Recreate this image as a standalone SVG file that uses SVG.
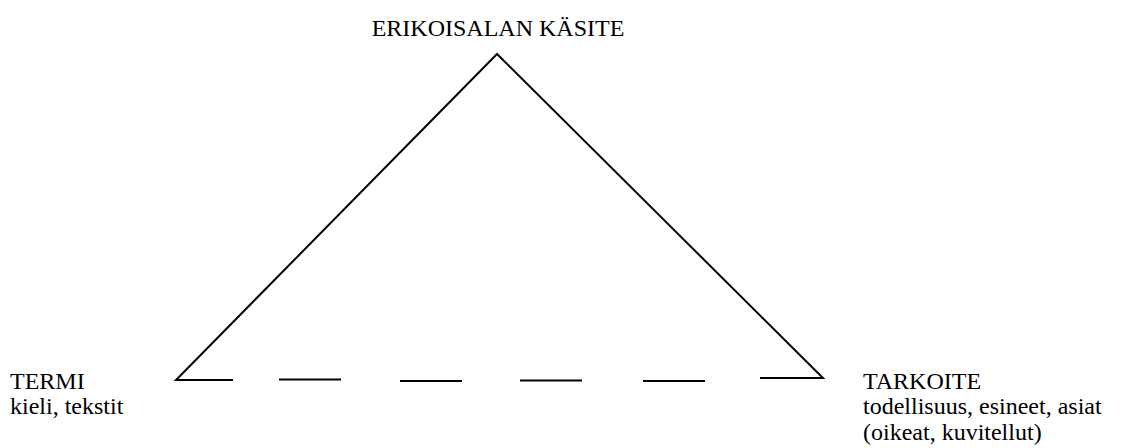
<svg xmlns="http://www.w3.org/2000/svg" width="1138" height="448" viewBox="0 0 1138 448">
<style>
.ln{stroke:#000;stroke-width:2;fill:none}
</style>
<rect width="1138" height="448" fill="#fff"/>
<g id="edges">
<polyline class="ln" points="233,380 176,380 497,54 823,378 760,378"/>
<line class="ln" x1="279" y1="379.5" x2="341" y2="379.5"/>
<line class="ln" x1="400" y1="381" x2="462" y2="381"/>
<line class="ln" x1="520" y1="380.5" x2="582" y2="380.5"/>
<line class="ln" x1="643" y1="381" x2="705" y2="381"/>
</g>
<g id="kasite"><text font-family="Liberation Serif" font-size="24" x="498" y="36" text-anchor="middle">ERIKOISALAN KÄSITE</text></g>
<g id="termi"><text font-family="Liberation Serif" font-size="24" x="10" y="389">TERMI</text><text font-family="Liberation Serif" font-size="24" x="10" y="414">kieli, tekstit</text></g>
<g id="tarkoite"><text font-family="Liberation Serif" font-size="24" x="863" y="389">TARKOITE</text><text font-family="Liberation Serif" font-size="24" x="863" y="414">todellisuus, esineet, asiat</text><text font-family="Liberation Serif" font-size="24" x="863" y="440">(oikeat, kuvitellut)</text></g>
</svg>
